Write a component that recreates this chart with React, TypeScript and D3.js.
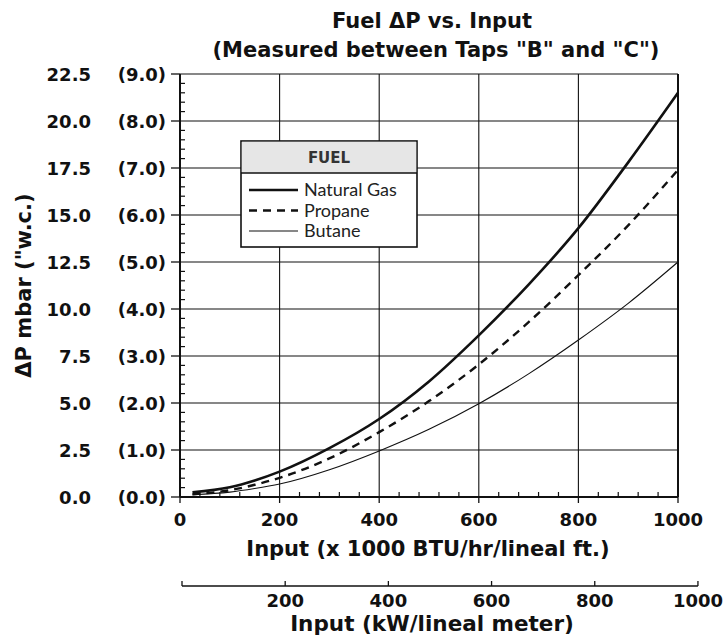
import React, { useEffect, useRef } from 'react';
import * as d3 from 'd3';

// input, x 1000 BTU/hr/lineal ft.
const inputs = [25, 100, 150, 200, 300, 400, 500, 600, 700, 800, 900, 1000];
// pressure drop, mbar
const naturalGas = [0.25, 0.52, 0.88, 1.35, 2.6, 4.15, 6.15, 8.6, 11.3, 14.3, 17.8, 21.5];
const propane = [0.15, 0.36, 0.65, 1.02, 2.05, 3.45, 5.1, 7.05, 9.3, 11.8, 14.45, 17.4];
const butane = [0.12, 0.26, 0.45, 0.69, 1.45, 2.45, 3.6, 4.96, 6.55, 8.35, 10.3, 12.5];

const yTicks = [0, 2.5, 5, 7.5, 10, 12.5, 15, 17.5, 20, 22.5];
const yTicksWc = ['(0.0)', '(1.0)', '(2.0)', '(3.0)', '(4.0)', '(5.0)', '(6.0)', '(7.0)', '(8.0)', '(9.0)'];
const xTicks = [0, 200, 400, 600, 800, 1000];
const kwTicks = [0, 200, 400, 600, 800, 1000];
const kwPerBtu = 0.9615; // kW/m per 1000 BTU/hr/ft

const fuels = ['Natural Gas', 'Propane', 'Butane'];

const BOLD = '"DejaVu Sans", Lato, sans-serif';
const REG = 'Lato, "Noto Sans", sans-serif';

function App() {
  const svgRef = useRef<SVGSVGElement>(null);

  useEffect(() => {
    const svg = d3.select(svgRef.current);
    svg.selectAll('*').remove();

    const left = 180, right = 678, top = 74, bottom = 497;
    const x = d3.scaleLinear().domain([0, 1000]).range([left, right]);
    const y = d3.scaleLinear().domain([0, 22.5]).range([bottom, top]);
    const xkw = d3.scaleLinear().domain([0, 1000]).range([x(0) + 2, x(1000 / kwPerBtu)]);

    const ink = '#111';

    // grid
    svg.append('g').selectAll('line').data(yTicks.slice(1)).enter().append('line')
      .attr('x1', left).attr('x2', right)
      .attr('y1', d => y(d)).attr('y2', d => y(d))
      .attr('stroke', ink).attr('stroke-width', 1.1);
    svg.append('g').selectAll('line').data(xTicks.slice(1)).enter().append('line')
      .attr('x1', d => x(d)).attr('x2', d => x(d))
      .attr('y1', top).attr('y2', bottom)
      .attr('stroke', ink).attr('stroke-width', 1.1);

    // frame
    svg.append('line').attr('x1', right).attr('x2', right).attr('y1', top).attr('y2', bottom)
      .attr('stroke', ink).attr('stroke-width', 2);
    svg.append('line').attr('x1', left).attr('x2', left).attr('y1', top).attr('y2', bottom)
      .attr('stroke', ink).attr('stroke-width', 2);
    svg.append('line').attr('x1', left).attr('x2', right).attr('y1', bottom).attr('y2', bottom)
      .attr('stroke', ink).attr('stroke-width', 2);

    // y ticks
    svg.append('g').selectAll('line').data(yTicks).enter().append('line')
      .attr('x1', left - 9).attr('x2', left)
      .attr('y1', d => y(d)).attr('y2', d => y(d))
      .attr('stroke', ink).attr('stroke-width', 1.3);
    const yMinor = d3.range(0, 22.5, 0.5).filter(v => Math.abs(v % 2.5) > 0.01);
    svg.append('g').selectAll('line').data(yMinor).enter().append('line')
      .attr('x1', left).attr('x2', left + 5)
      .attr('y1', d => y(d)).attr('y2', d => y(d))
      .attr('stroke', ink).attr('stroke-width', 1.2);

    // x ticks
    svg.append('g').selectAll('line').data(xTicks).enter().append('line')
      .attr('x1', d => x(d)).attr('x2', d => x(d))
      .attr('y1', bottom).attr('y2', bottom + 6)
      .attr('stroke', ink).attr('stroke-width', 1.3);
    const xMinor = d3.range(0, 1000, 40).filter(v => v % 200 !== 0);
    svg.append('g').selectAll('line').data(xMinor).enter().append('line')
      .attr('x1', d => x(d)).attr('x2', d => x(d))
      .attr('y1', bottom - 5).attr('y2', bottom)
      .attr('stroke', ink).attr('stroke-width', 1.2);

    // y labels
    const yl = svg.append('g').attr('font-family', BOLD).attr('font-weight', 700)
      .attr('font-size', 18).attr('fill', ink).attr('text-anchor', 'end');
    yl.selectAll('.mb').data(yTicks).enter().append('text')
      .attr('x', 91).attr('y', d => y(d) + 6.5).text(d => d.toFixed(1));
    yl.selectAll('.wc').data(yTicks).enter().append('text')
      .attr('x', 166).attr('y', d => y(d) + 6.5).text((d, i) => yTicksWc[i]);

    // x labels
    svg.append('g').selectAll('text').data(xTicks).enter().append('text')
      .attr('x', d => x(d)).attr('y', 526)
      .attr('text-anchor', 'middle').attr('font-family', BOLD).attr('font-weight', 700)
      .attr('font-size', 18).attr('fill', ink).text(d => d);

    svg.append('text').attr('x', 428).attr('y', 556)
      .attr('text-anchor', 'middle').attr('font-family', BOLD).attr('font-weight', 700)
      .attr('font-size', 21).attr('fill', ink).text('Input (x 1000 BTU/hr/lineal ft.)');

    // second x axis (kW/lineal meter)
    const ay = 586;
    svg.append('line').attr('x1', xkw(0)).attr('x2', xkw(1000)).attr('y1', ay).attr('y2', ay)
      .attr('stroke', ink).attr('stroke-width', 1.5);
    svg.append('g').selectAll('line').data(kwTicks).enter().append('line')
      .attr('x1', d => xkw(d)).attr('x2', d => xkw(d))
      .attr('y1', ay - 5).attr('y2', ay)
      .attr('stroke', ink).attr('stroke-width', 1.3);
    svg.append('g').selectAll('text').data(kwTicks.slice(1)).enter().append('text')
      .attr('x', d => xkw(d)).attr('y', 607)
      .attr('text-anchor', 'middle').attr('font-family', BOLD).attr('font-weight', 700)
      .attr('font-size', 18).attr('fill', ink).text(d => d);
    svg.append('text').attr('x', 432).attr('y', 631)
      .attr('text-anchor', 'middle').attr('font-family', BOLD).attr('font-weight', 700)
      .attr('font-size', 21.5).attr('fill', ink).text('Input (kW/lineal meter)');

    // y title
    svg.append('text').attr('transform', `translate(31,${(top + bottom) / 2}) rotate(-90)`)
      .attr('text-anchor', 'middle').attr('font-family', BOLD).attr('font-weight', 700)
      .attr('font-size', 21).attr('fill', ink).text('\u0394P mbar ("w.c.)');

    // titles
    svg.append('text').attr('x', 432).attr('y', 28)
      .attr('text-anchor', 'middle').attr('font-family', BOLD).attr('font-weight', 700)
      .attr('font-size', 21).attr('fill', ink).text('Fuel \u0394P vs. Input');
    svg.append('text').attr('x', 436).attr('y', 57)
      .attr('text-anchor', 'middle').attr('font-family', BOLD).attr('font-weight', 700)
      .attr('font-size', 21).attr('fill', ink).text('(Measured between Taps "B" and "C")');

    // curves
    const series = [
      { name: fuels[0], values: naturalGas, width: 2.6, dash: null },
      { name: fuels[1], values: propane, width: 2.4, dash: '8,6' },
      { name: fuels[2], values: butane, width: 1.1, dash: null },
    ];
    const line = d3.line<number>()
      .x((d, i) => x(inputs[i]))
      .y(d => y(d))
      .curve(d3.curveMonotoneX);
    series.forEach(s => {
      svg.append('path').attr('d', line(s.values))
        .attr('fill', 'none').attr('stroke', ink)
        .attr('stroke-width', s.width)
        .attr('stroke-dasharray', s.dash);
    });

    // legend
    const lg = svg.append('g').attr('transform', 'translate(241,141)');
    lg.append('rect').attr('width', 176).attr('height', 106).attr('fill', '#fff')
      .attr('stroke', ink).attr('stroke-width', 1.6);
    lg.append('rect').attr('x', 0.8).attr('y', 0.8).attr('width', 174.4).attr('height', 31)
      .attr('fill', '#e6e6e6');
    lg.append('line').attr('x1', 0).attr('x2', 176).attr('y1', 32).attr('y2', 32)
      .attr('stroke', ink).attr('stroke-width', 1.4);
    lg.append('text').attr('x', 88).attr('y', 22).attr('text-anchor', 'middle')
      .attr('font-family', BOLD).attr('font-weight', 700).attr('font-size', 15)
      .attr('fill', '#333').text('FUEL');
    series.forEach((s, i) => {
      const ry = 49 + i * 20.5;
      lg.append('line').attr('x1', 8).attr('x2', 57).attr('y1', ry).attr('y2', ry)
        .attr('stroke', ink).attr('stroke-width', s.width).attr('stroke-dasharray', s.dash);
      lg.append('text').attr('x', 63).attr('y', ry + 6)
        .attr('font-family', REG).attr('font-size', 18).attr('fill', '#222').text(s.name);
    });
  }, []);

  return (
    <svg ref={svgRef} width={727} height={637}
      style={{ position: 'absolute', left: 0, top: 0, background: '#fff' }}></svg>
  );
}

export default App;
